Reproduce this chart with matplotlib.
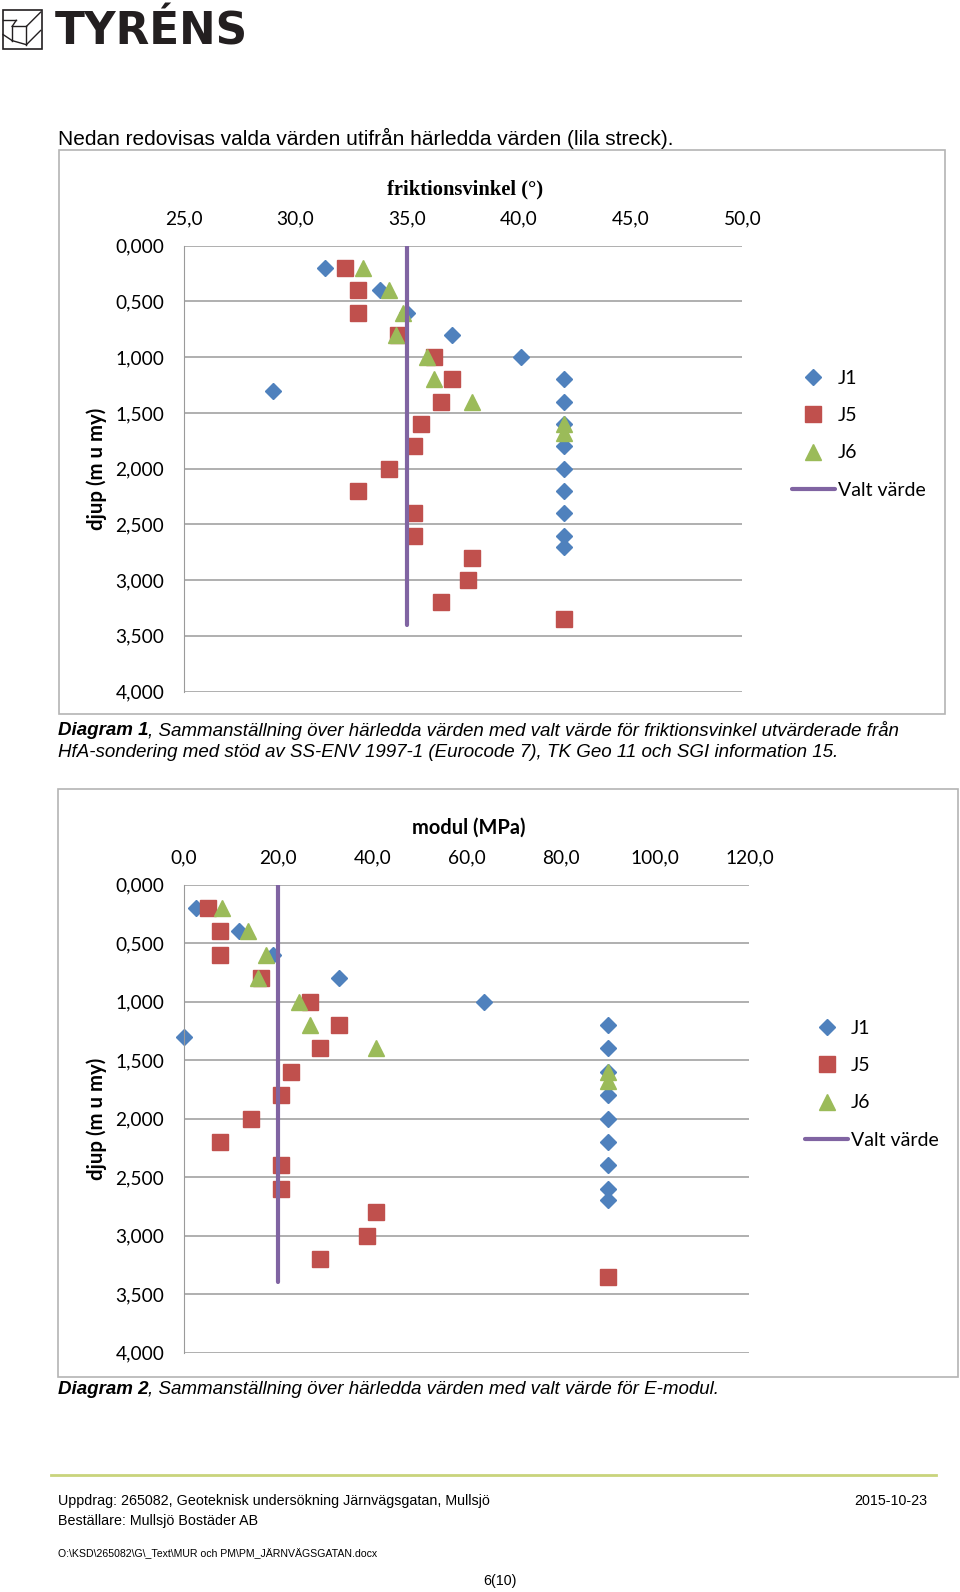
import matplotlib
matplotlib.use("Agg")
import matplotlib.pyplot as plt
from matplotlib.lines import Line2D
from matplotlib.patches import Rectangle

# --- data: depth (m u my) and derived values per sounding ---
j1_depth = [0.2, 0.4, 0.6, 0.8, 1.0, 1.3, 1.2, 1.4, 1.6, 1.8, 2.0, 2.2, 2.4, 2.6, 2.7]
j5_depth = [0.2, 0.4, 0.6, 0.8, 1.0, 1.2, 1.4, 1.6, 1.8, 2.0, 2.2, 2.4, 2.6, 2.8, 3.0, 3.2, 3.35]
j6_depth = [0.2, 0.4, 0.6, 0.8, 1.0, 1.2, 1.4, 1.6, 1.68]

# friktionsvinkel (deg)
j1_phi = [31.3, 33.8, 35.0, 37.0, 40.1, 29.0, 42.0, 42.0, 42.0, 42.0, 42.0, 42.0, 42.0, 42.0, 42.0]
j5_phi = [32.2, 32.8, 32.8, 34.6, 36.2, 37.0, 36.5, 35.6, 35.3, 34.2, 32.8, 35.3, 35.3, 37.9, 37.7, 36.5, 42.0]
j6_phi = [33.0, 34.2, 34.8, 34.5, 35.9, 36.2, 37.9, 42.0, 42.0]

# modul (MPa)
j1_mod = [2.5, 11.8, 18.9, 32.9, 63.6, 0.0, 90.0, 90.0, 90.0, 90.0, 90.0, 90.0, 90.0, 90.0, 90.0]
j5_mod = [5.1, 7.6, 7.6, 16.4, 26.8, 32.9, 28.8, 22.7, 20.6, 14.2, 7.6, 20.6, 20.6, 40.8, 38.8, 28.8, 90.0]
j6_mod = [8.2, 13.7, 17.5, 15.8, 24.4, 26.8, 40.8, 90.0, 90.0]

valt_depth = [0.0, 3.4]
valt_phi = [35.0, 35.0]
valt_mod = [20.0, 20.0]

depth_ticks = [0.0, 0.5, 1.0, 1.5, 2.0, 2.5, 3.0, 3.5, 4.0]
phi_ticks = [25, 30, 35, 40, 45, 50]
mod_ticks = [0, 20, 40, 60, 80, 100, 120]

C_J1, C_J5, C_J6, C_VALT = "#4F81BD", "#C0504D", "#9BBB59", "#8064A2"
GRID = "#9A9A9A"
W, H = 960, 1592
S = 1.0155  # layout measured on a slightly shrunk view of the page


def fx(x):
    return x * S / W


def fy(y):
    return 1 - y * S / H


def comma(v, dec):
    return f"{v:.{dec}f}".replace(".", ",")


def draw_chart(fig, box, area, title, title_font, xvals, xticks, xlim, valt_x, legend_xy):
    # outer chart frame
    bx0, by0, bx1, by1 = box
    fig.patches.append(Rectangle((fx(bx0), fy(by1)), fx(bx1 - bx0), (by1 - by0) * S / H,
                                 transform=fig.transFigure, fill=False,
                                 edgecolor="#B4B4B4", lw=1.2))
    x0, y0, x1, y1 = area
    ax = fig.add_axes([fx(x0), fy(y1), fx(x1 - x0), (y1 - y0) * S / H])
    ax.set_xlim(*xlim)
    ax.set_ylim(4.0, 0.0)
    ax.xaxis.tick_top()
    ax.set_xticks(xticks)
    ax.set_xticklabels([comma(t, 1) for t in xticks])
    ax.set_yticks(depth_ticks)
    ax.set_yticklabels([comma(t, 3) for t in depth_ticks])
    ax.tick_params(length=0, labelsize=13.8, colors="#000000")
    ax.tick_params(axis="y", pad=14)
    ax.tick_params(axis="x", pad=13)
    for lab in ax.get_xticklabels() + ax.get_yticklabels():
        lab.set_family("Lato")
    for s in ["top", "right", "bottom"]:
        ax.spines[s].set_visible(False)
    ax.spines["left"].set_color(GRID)
    ax.yaxis.grid(True, color=GRID, lw=1.1)
    ax.set_axisbelow(True)

    xs1, xs5, xs6 = xvals
    ax.plot(xs1, j1_depth, ls="none", marker="D", ms=8.4, color=C_J1, label="J1", clip_on=False)
    ax.plot(xs5, j5_depth, ls="none", marker="s", ms=11.5, color=C_J5, label="J5", clip_on=False)
    ax.plot(xs6, j6_depth, ls="none", marker="^", ms=11.5, color=C_J6, label="J6", clip_on=False)
    ax.plot(valt_x, valt_depth, color=C_VALT, lw=3, label="Valt värde", solid_capstyle="round")

    fig.text(fx((x0 + x1) / 2 + 2), fy(title_font[1]), title, ha="center", va="center",
             fontsize=title_font[2], fontweight="bold", family=title_font[0])
    fig.text(fx(95), fy((y0 + y1) / 2), "djup (m u my)", rotation=90, ha="center", va="center",
             fontsize=14.7, fontweight="bold", family="Lato")

    h, l = ax.get_legend_handles_labels()
    fig.legend(h, l, loc="upper left", bbox_to_anchor=(fx(legend_xy[0]), fy(legend_xy[1])),
               frameon=False, prop={"family": "Lato", "size": 14}, handlelength=2.2,
               handletextpad=0.15, labelspacing=1.05, borderaxespad=0, borderpad=0)
    return ax


def caption(fig, x, y, bold, rest, size=13.5):
    t = fig.text(fx(x), fy(y), bold, fontsize=size, fontweight="bold", style="italic",
                 family="Liberation Sans", va="center")
    r = fig.canvas.get_renderer()
    bb = t.get_window_extent(renderer=r)
    fig.text(bb.x1 / W, fy(y), rest, fontsize=size, style="italic",
             family="Liberation Sans", va="center")


fig = plt.figure(figsize=(W / 100, H / 100), dpi=100)
fig.patch.set_facecolor("white")

# logo
fig.patches.append(Rectangle((fx(3), fy(48)), fx(38), 38 * S / H, transform=fig.transFigure,
                             fill=False, edgecolor="#231F20", lw=1.2))
for (xa, ya, xb, yb) in [(3, 20, 16, 20), (16, 20, 12, 26), (12, 26, 26, 26), (26, 26, 26, 44),
                         (26, 26, 40, 12), (12, 26, 12, 40), (12, 40, 26, 44), (3, 34, 12, 40),
                         (26, 44, 40, 30)]:
    fig.lines.append(Line2D([fx(xa), fx(xb)], [fy(ya), fy(yb)], transform=fig.transFigure,
                            color="#231F20", lw=1.0))
fig.text(fx(54), fy(32), "TYRÉNS", fontsize=31.5, fontweight="bold", family="DejaVu Sans",
         color="#231F20", va="center")

fig.text(fx(57), fy(136), "Nedan redovisas valda värden utifrån härledda värden (lila streck).",
         fontsize=15, family="Liberation Sans", va="center")

draw_chart(fig, (58, 148, 931, 703), (181, 242, 731, 681), "friktionsvinkel (°)",
           ("Liberation Serif", 187, 14.8), (j1_phi, j5_phi, j6_phi), phi_ticks, (25, 50),
           valt_phi, (780, 364))
caption(fig, 57, 719, "Diagram 1",
        ", Sammanställning över härledda värden med valt värde för friktionsvinkel utvärderade från")
fig.text(fx(57), fy(741),
         "HfA-sondering med stöd av SS-ENV 1997-1 (Eurocode 7), TK Geo 11 och SGI information 15.",
         fontsize=13.5, style="italic", family="Liberation Sans", va="center")

draw_chart(fig, (57, 777, 943, 1356), (181, 871, 738, 1332), "modul (MPa)",
           ("Lato", 815, 14.4), (j1_mod, j5_mod, j6_mod), mod_ticks, (0, 120),
           valt_mod, (793, 1004))
caption(fig, 57, 1368, "Diagram 2", ", Sammanställning över härledda värden med valt värde för E-modul.")

# footer
fig.lines.append(Line2D([fx(50), fx(922)], [fy(1452), fy(1452)], transform=fig.transFigure,
                        color="#C9D47C", lw=2))
fig.text(fx(57), fy(1478), "Uppdrag: 265082, Geoteknisk undersökning Järnvägsgatan, Mullsjö",
         fontsize=10.3, family="Liberation Sans", va="center")
fig.text(fx(913), fy(1478), "2015-10-23", fontsize=10.3, family="Liberation Sans",
         va="center", ha="right")
fig.text(fx(57), fy(1498), "Beställare: Mullsjö Bostäder AB", fontsize=10.3,
         family="Liberation Sans", va="center")
fig.text(fx(57), fy(1530), "O:\\KSD\\265082\\G\\_Text\\MUR och PM\\PM_JÄRNVÄGSGATAN.docx",
         fontsize=7.6, family="Liberation Sans", va="center")
fig.text(fx(492), fy(1557), "6(10)", fontsize=10.3, family="Liberation Sans",
         va="center", ha="center")

fig.savefig("out.png", dpi=100)
